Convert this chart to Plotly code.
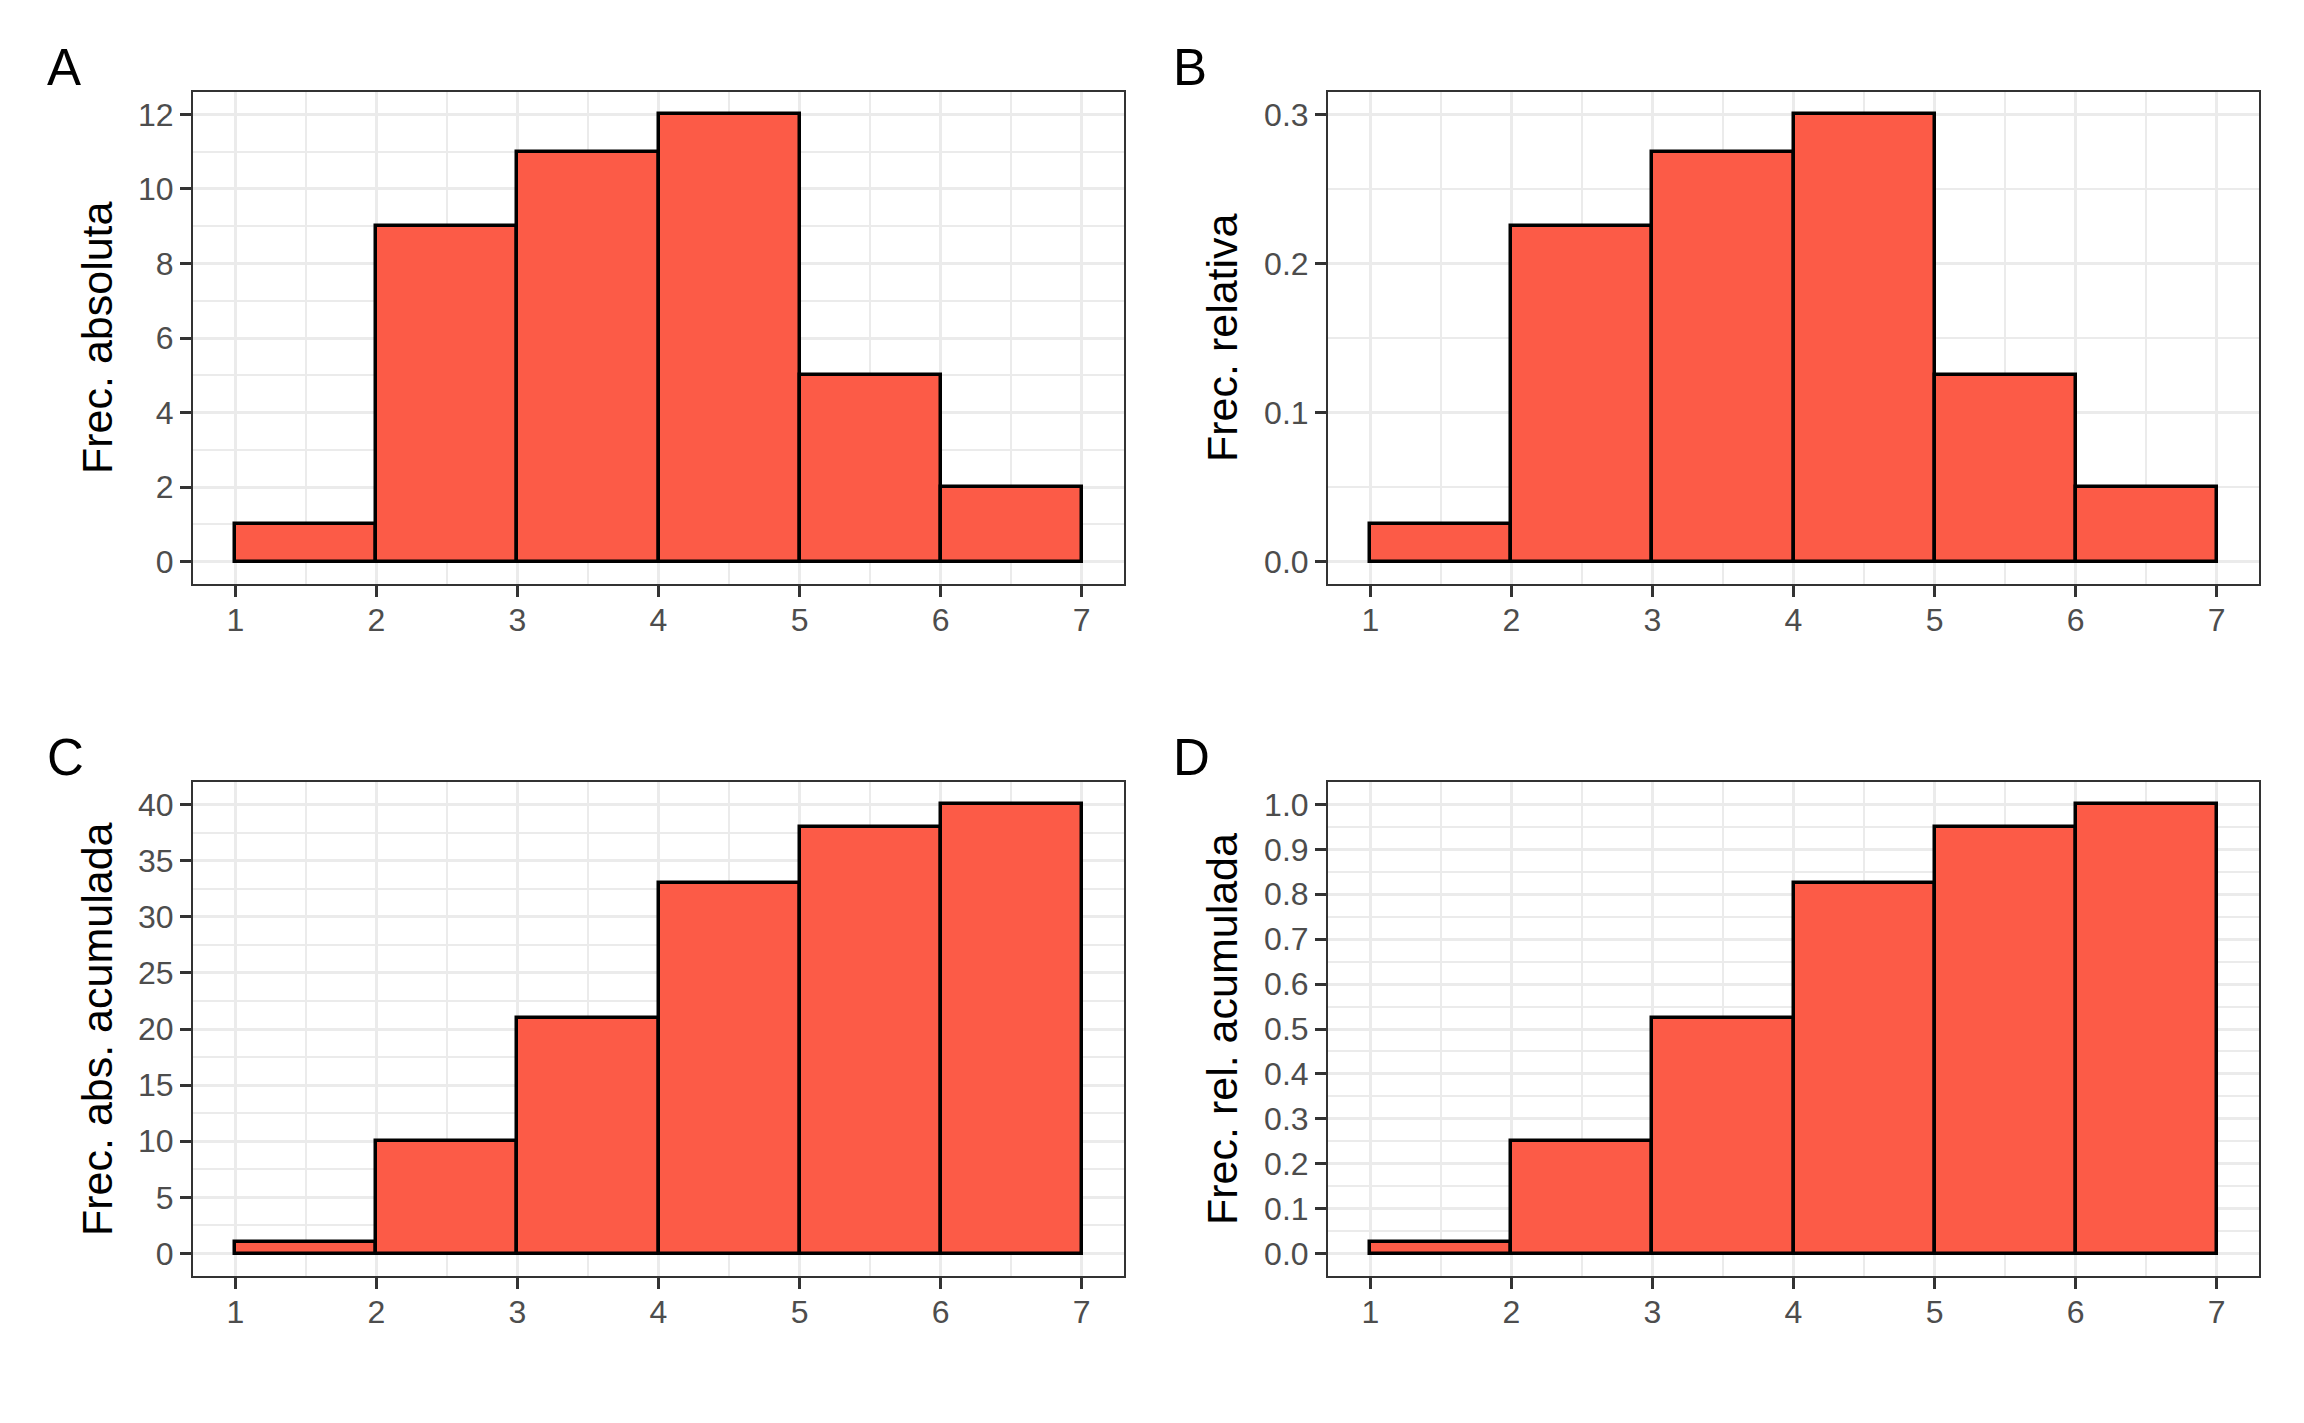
import plotly.graph_objects as go

# ---- data ----
bin_edges = [1, 2, 3, 4, 5, 6, 7]
frec_abs = [1, 9, 11, 12, 5, 2]
frec_rel = [0.025, 0.225, 0.275, 0.300, 0.125, 0.050]
frec_abs_acum = [1, 10, 21, 33, 38, 40]
frec_rel_acum = [0.025, 0.250, 0.525, 0.825, 0.950, 1.000]

x_ticks = [1, 2, 3, 4, 5, 6, 7]
yticks_a = [0, 2, 4, 6, 8, 10, 12]
yticks_b = [0.0, 0.1, 0.2, 0.3]
yticks_c = [0, 5, 10, 15, 20, 25, 30, 35, 40]
yticks_d = [0.0, 0.1, 0.2, 0.3, 0.4, 0.5, 0.6, 0.7, 0.8, 0.9, 1.0]

panel_tags = ["A", "B", "C", "D"]
y_titles = ["Frec. absoluta", "Frec. relativa", "Frec. abs. acumulada", "Frec. rel. acumulada"]

# ---- style ----
PAGE_W, PAGE_H = 2304, 1423
OFF = 8  # default body margin of the html page
W, H = PAGE_W - 2 * OFF, PAGE_H - 2 * OFF
FONT = "Liberation Sans, Arial, Helvetica, sans-serif"
FILL = "#FC5B47"
GRID = "#EBEBEB"
BORDER = "#333333"
TICKTXT = "#4D4D4D"
TICK_FS = 32

centers = [(bin_edges[i] + bin_edges[i + 1]) / 2 for i in range(len(bin_edges) - 1)]
widths = [bin_edges[i + 1] - bin_edges[i] for i in range(len(bin_edges) - 1)]

# pixel boxes of the four panels on the page (left, right, top, bottom)
boxes = [
    (193, 1124, 92, 584),
    (1328, 2259, 92, 584),
    (193, 1124, 782, 1276),
    (1328, 2259, 782, 1276),
]


def px(xp):
    return (xp - OFF) / W


def py(yp):
    return 1 - (yp - OFF) / H


series = [frec_abs, frec_rel, frec_abs_acum, frec_rel_acum]
yticks = [yticks_a, yticks_b, yticks_c, yticks_d]
ylabels = [
    [str(v) for v in yticks_a],
    ["%.1f" % v for v in yticks_b],
    [str(v) for v in yticks_c],
    ["%.1f" % v for v in yticks_d],
]
minor_dt = [1, 0.05, 2.5, 0.05]
ymax = [12, 0.3, 40, 1.0]

fig = go.Figure()
layout = dict(
    width=W, height=H,
    margin=dict(l=0, r=0, t=0, b=0),
    paper_bgcolor="white", plot_bgcolor="white",
    showlegend=False, bargap=0,
    font=dict(family=FONT, color=TICKTXT, size=TICK_FS),
)
annotations = []
for i in range(4):
    sfx = "" if i == 0 else str(i + 1)
    l, r, t, b = boxes[i]
    fig.add_trace(go.Bar(
        x=centers, y=series[i], width=widths,
        marker=dict(color=FILL, line=dict(color="black", width=3.5)),
        xaxis="x" + sfx, yaxis="y" + sfx, hoverinfo="skip",
    ))
    pad = ymax[i] * 0.05
    layout["xaxis" + sfx] = dict(
        domain=[px(l), px(r)], anchor="y" + sfx,
        range=[0.7, 7.3], tickvals=x_ticks, ticktext=[str(v) for v in x_ticks],
        showgrid=True, gridcolor=GRID, gridwidth=3.3,
        minor=dict(dtick=0.5, tick0=0, showgrid=True, gridcolor=GRID, gridwidth=1.7, ticks=""),
        ticks="outside", ticklen=11, tickwidth=3, tickcolor=BORDER,
        ticklabelstandoff=-4,
        showline=True, linecolor=BORDER, linewidth=2, mirror=True,
        zeroline=False, tickfont=dict(size=TICK_FS, color=TICKTXT, family=FONT),
    )
    layout["yaxis" + sfx] = dict(
        domain=[py(b), py(t)], anchor="x" + sfx,
        range=[-pad, ymax[i] + pad], tickvals=yticks[i], ticktext=ylabels[i],
        showgrid=True, gridcolor=GRID, gridwidth=3.3,
        minor=dict(dtick=minor_dt[i], tick0=0, showgrid=True, gridcolor=GRID, gridwidth=1.7, ticks=""),
        ticks="outside", ticklen=11, tickwidth=3, tickcolor=BORDER,
        showline=True, linecolor=BORDER, linewidth=2, mirror=True,
        zeroline=False, tickfont=dict(size=TICK_FS, color=TICKTXT, family=FONT),
    )
    # panel tag
    tag_x = 45 if i % 2 == 0 else 1171
    tag_y = 68 if i < 2 else 757
    annotations.append(dict(
        text=panel_tags[i], xref="paper", yref="paper",
        x=px(tag_x), y=py(tag_y), xanchor="left", yanchor="middle",
        showarrow=False, font=dict(size=51, color="black", family=FONT),
    ))
    # y-axis title
    title_x = 97 if i % 2 == 0 else 1222
    annotations.append(dict(
        text=y_titles[i], xref="paper", yref="paper",
        x=px(title_x), y=py((t + b) / 2), xanchor="center", yanchor="middle",
        textangle=-90, showarrow=False, font=dict(size=43, color="black", family=FONT),
    ))

layout["annotations"] = annotations
fig.update_layout(**layout)
fig.write_html("out.html")
